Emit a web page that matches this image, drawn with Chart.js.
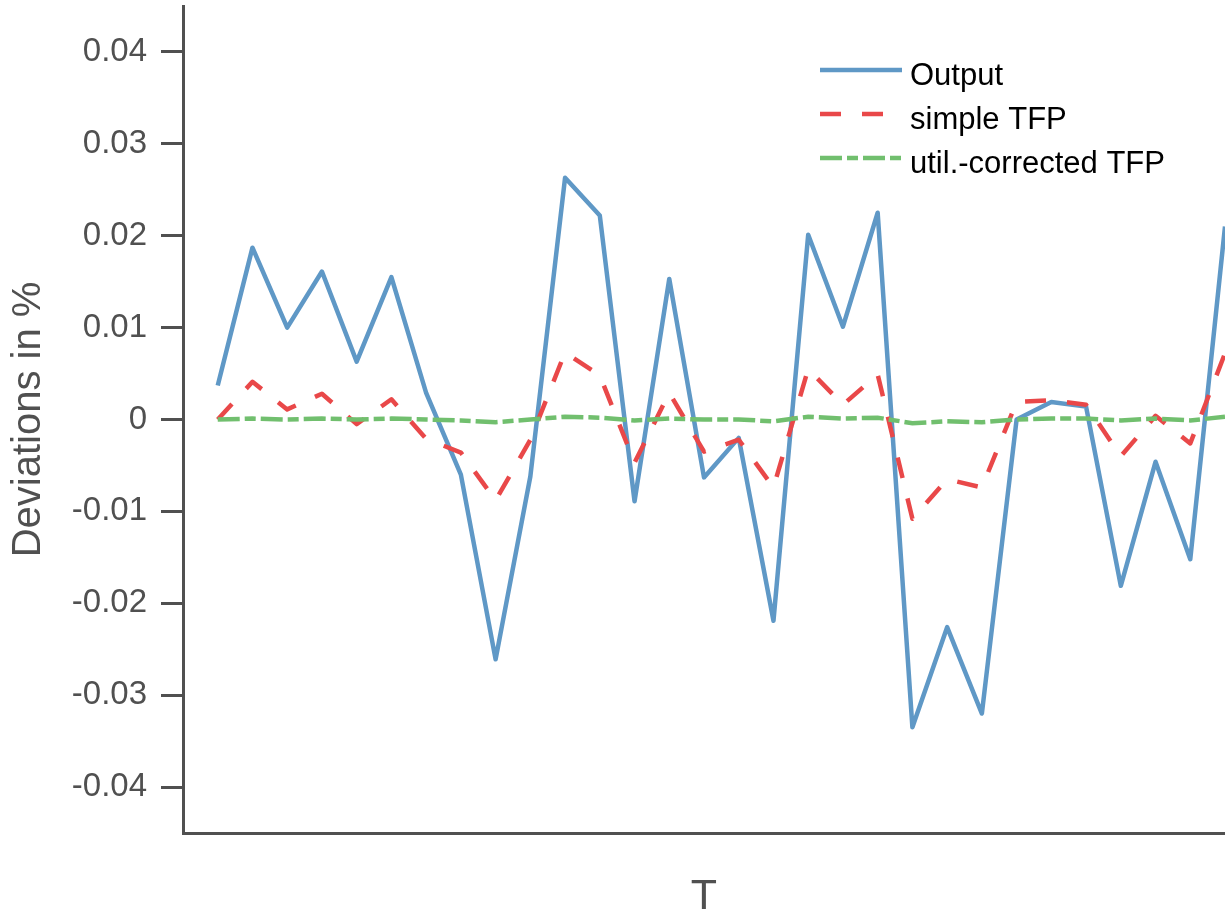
<!DOCTYPE html>
<html>
<head>
<meta charset="utf-8">
<script src="https://cdn.jsdelivr.net/npm/chart.js@4/dist/chart.umd.min.js"></script>
<style>
  html, body { margin: 0; padding: 0; background: #ffffff; }
  #wrap { width: 1225px; height: 916px; position: relative; }
</style>
</head>
<body>
<div id="wrap"><canvas id="chart" width="1225" height="916"></canvas></div>
<script>
// Periods on the horizontal axis
const periods = [1, 2, 3, 4, 5, 6, 7, 8, 9, 10, 11, 12, 13, 14, 15,
                 16, 17, 18, 19, 20, 21, 22, 23, 24, 25, 26, 27, 28, 29, 30];

// Deviations of each series per period
const outputDev = [0.0037, 0.0187, 0.0100, 0.0161, 0.0063, 0.0155, 0.0029, -0.0060, -0.0261, -0.0062,
                   0.0263, 0.0222, -0.0089, 0.0153, -0.0063, -0.0020, -0.0219, 0.0201, 0.0101, 0.0225,
                   -0.0335, -0.0226, -0.0320, 0.0000, 0.0019, 0.0014, -0.0181, -0.0046, -0.0152, 0.0210];

const simpleTfp = [0.0000, 0.0041, 0.0011, 0.0028, -0.0005, 0.0022, -0.0021, -0.0036, -0.0088, -0.0022,
                   0.0073, 0.0048, -0.0047, 0.0029, -0.0035, -0.0022, -0.0074, 0.0055, 0.0016, 0.0049,
                   -0.0108, -0.0065, -0.0074, 0.0019, 0.0021, 0.0016, -0.0040, 0.0004, -0.0026, 0.0072];

const utilTfp = [0.0000, 0.0001, 0.0000, 0.0001, 0.0000, 0.0001, 0.0000, -0.0001, -0.0003, 0.0000,
                 0.0003, 0.0002, -0.0001, 0.0001, 0.0000, 0.0000, -0.0002, 0.0003, 0.0001, 0.0002,
                 -0.0004, -0.0002, -0.0003, 0.0000, 0.0001, 0.0001, -0.0001, 0.0001, -0.0001, 0.0003];

// Vertical axis ticks
const yTickValues = [-0.04, -0.03, -0.02, -0.01, 0, 0.01, 0.02, 0.03, 0.04];
const yTickLabels = ['-0.04', '-0.03', '-0.02', '-0.01', '0', '0.01', '0.02', '0.03', '0.04'];

const seriesNames = ['Output', 'simple TFP', 'util.-corrected TFP'];

const FONT = '"Liberation Sans", Arial, Helvetica, sans-serif';
const AXIS_GREY = '#505050';

const toPoints = (vals) => vals.map((v, i) => ({ x: periods[i], y: v }));

// Legend drawn in the upper right corner of the plot area
const cornerLegend = {
  id: 'cornerLegend',
  afterDraw(chart) {
    const ctx = chart.ctx;
    const area = chart.chartArea;
    const lineStart = area.right - 405;
    const lineEnd = lineStart + 82;
    const textX = lineEnd + 8;
    const firstY = area.top + 64;
    const rowGap = 44;
    chart.data.datasets.forEach((ds, i) => {
      const y = firstY + i * rowGap;
      ctx.save();
      ctx.strokeStyle = ds.borderColor;
      ctx.lineWidth = ds.borderWidth;
      ctx.lineCap = 'butt';
      ctx.setLineDash(ds.borderDash || []);
      ctx.beginPath();
      ctx.moveTo(lineStart, y);
      ctx.lineTo(lineEnd, y);
      ctx.stroke();
      ctx.setLineDash([]);
      ctx.fillStyle = '#000000';
      ctx.font = '31px ' + FONT;
      ctx.textAlign = 'left';
      ctx.textBaseline = 'alphabetic';
      ctx.fillText(ds.label, textX, y + 15);
      ctx.restore();
    });
  }
};

new Chart(document.getElementById('chart'), {
  type: 'line',
  data: {
    datasets: [
      {
        label: seriesNames[0],
        data: toPoints(outputDev),
        borderColor: '#5F98C6',
        borderWidth: 4.5,
        borderJoinStyle: 'round',
        pointRadius: 0,
        tension: 0,
        fill: false,
        order: 2
      },
      {
        label: seriesNames[1],
        data: toPoints(simpleTfp),
        borderColor: '#E94849',
        borderWidth: 4.5,
        borderDash: [21, 21],
        borderJoinStyle: 'round',
        pointRadius: 0,
        tension: 0,
        fill: false,
        order: 1
      },
      {
        label: seriesNames[2],
        data: toPoints(utilTfp),
        borderColor: '#71BF6E',
        borderWidth: 4.5,
        borderDash: [22, 5, 11, 5],
        pointRadius: 0,
        tension: 0,
        fill: false,
        order: 0
      }
    ]
  },
  options: {
    responsive: false,
    animation: false,
    layout: { padding: { top: 6, left: 0, right: 0, bottom: 0 } },
    plugins: {
      legend: { display: false },
      tooltip: { enabled: false }
    },
    scales: {
      x: {
        type: 'linear',
        min: 0,
        max: 30,
        afterFit(scale) {
          scale.height = 83;
          scale.paddingLeft = 0;
          scale.paddingRight = 0;
        },
        ticks: { display: false },
        grid: { display: false },
        border: { display: true, color: AXIS_GREY, width: 3 },
        title: {
          display: true,
          text: 'T',
          color: AXIS_GREY,
          font: { family: FONT, size: 43, lineHeight: 0.86 },
          padding: { top: 0, bottom: 0 }
        }
      },
      y: {
        type: 'linear',
        min: -0.045,
        max: 0.045,
        afterFit(scale) {
          scale.width = 183;
          scale.paddingTop = 0;
          scale.paddingBottom = 0;
        },
        afterBuildTicks(scale) {
          scale.ticks = yTickValues.map(v => ({ value: v }));
        },
        ticks: {
          color: AXIS_GREY,
          font: { family: FONT, size: 33 },
          padding: 14,
          callback(value) {
            const idx = yTickValues.findIndex(t => Math.abs(t - value) < 1e-9);
            return idx >= 0 ? yTickLabels[idx] : '';
          }
        },
        grid: {
          drawOnChartArea: false,
          drawTicks: true,
          tickLength: 22,
          tickWidth: 3,
          tickColor: AXIS_GREY,
          color: AXIS_GREY,
          lineWidth: 3
        },
        border: { display: true, color: AXIS_GREY, width: 3 },
        title: {
          display: true,
          text: 'Deviations in %',
          color: AXIS_GREY,
          font: { family: FONT, size: 40, lineHeight: 1.2 },
          padding: { top: 5, bottom: 0 }
        }
      }
    }
  },
  plugins: [cornerLegend]
});
</script>
</body>
</html>
